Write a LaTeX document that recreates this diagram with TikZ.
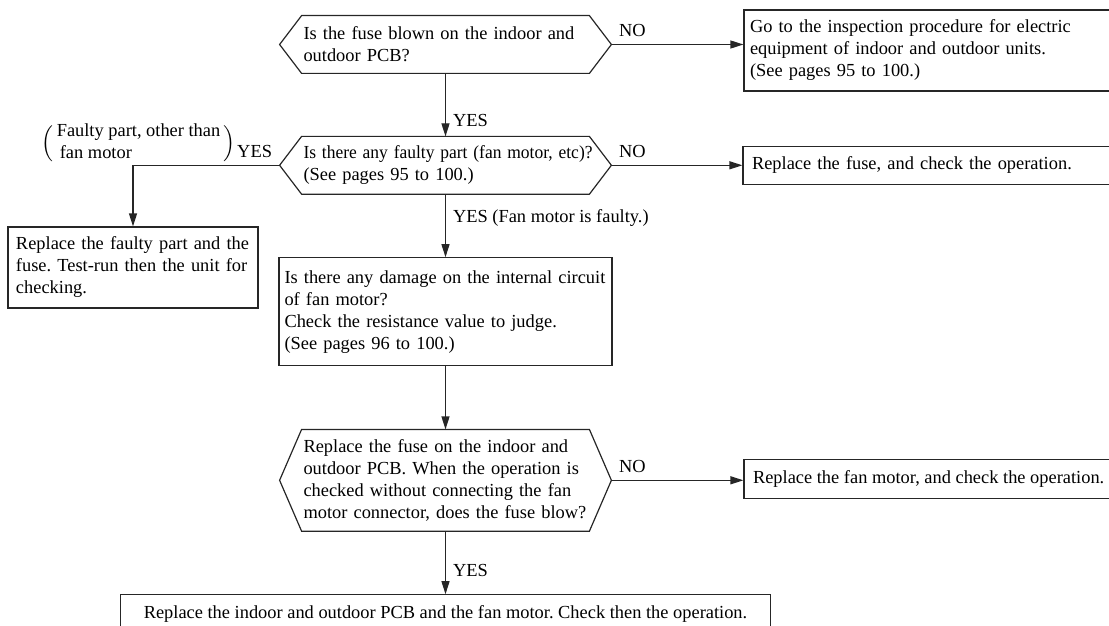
\documentclass[tikz,border=0pt]{standalone}
\usepackage{fontspec}
\usepackage{graphicx}
\setmainfont{Liberation Serif}
\usetikzlibrary{arrows.meta, positioning, calc}
\newcommand{\chartfont}{\fontsize{9.2}{11}\selectfont\frenchspacing\hyphenpenalty=10000\exhyphenpenalty=10000}
\tikzset{
    decision/.style={
        rectangle,
        minimum width=165.5pt,
        minimum height=28.5pt,
        text width=142pt,
        inner xsep=0pt,
        inner ysep=1.5pt,
        align=left,
        font=\chartfont
    },
    action/.style={
        rectangle,
        draw=black!85,
        line width=0.6pt,
        inner xsep=0pt,
        inner ysep=1.5pt,
        align=left,
        font=\chartfont
    },
    flow/.style={
        draw=black!85,
        line width=0.6pt,
        -{Triangle[length=6.5pt,width=4pt]}
    },
    answer/.style={
        font=\chartfont,
        inner sep=3.5pt
    }
}
\newcommand{\decisionframe}[1]{%
    \draw[black!85, line width=0.6pt] (#1.west) -- ([xshift=11pt]#1.north west)
        -- ([xshift=-11pt]#1.north east) -- (#1.east)
        -- ([xshift=-11pt]#1.south east) -- ([xshift=11pt]#1.south west) -- cycle;}

\begin{document}
\begin{tikzpicture}[x=0.5pt, y=-0.5pt, node distance=31.5pt and 66pt]
\useasboundingbox (0,0) rectangle (1109,626);

% Fuse blown?
\node[decision] (blown) at (445.5,44.5) {Is the fuse blown on the indoor and\\outdoor PCB?};
\decisionframe{blown}
\node[action, right=of blown, yshift=-3pt, minimum width=184.5pt, minimum height=40.5pt, text width=178.5pt] (inspect) {Go to the inspection procedure for electric\\equipment of indoor and outdoor units.\\(See pages 95 to 100.)};

% Faulty part?
\node[decision, below=of blown] (faulty) {\scalebox{0.95}[1]{Is there any faulty part (fan motor, etc)?}\\(See pages 95 to 100.)};
\decisionframe{faulty}
\node[action, right=65.5pt of faulty, minimum width=184.5pt, minimum height=19pt, text width=175.5pt] (fuse) {Replace the fuse, and check the operation.};
\node[action, minimum width=125pt, minimum height=40.5pt, text width=117pt] (replacepart) at (133,267.5) {Replace the faulty part and the\\fuse. Test-run then the unit for\\checking.};

% Fan motor circuit
\node[action, below=of faulty, minimum width=166.5pt, minimum height=54pt, text width=161pt] (damage) {Is there any damage on the internal circuit\\of fan motor?\\Check the resistance value to judge.\\(See pages 96 to 100.)};

% Without fan motor connector
\node[decision, below=of damage, minimum height=50.5pt] (blow) {Replace the fuse on the indoor and\\outdoor PCB. When the operation is\\checked without connecting the fan\\motor connector, does the fuse blow?};
\decisionframe{blow}
\node[action, right=of blow, yshift=0.5pt, minimum width=184.5pt, minimum height=19.5pt, inner xsep=4.5pt] (motor) {Replace the fan motor, and check the operation.};
\node[action, below=of blow, minimum width=325pt, minimum height=19pt] (pcb) {Replace the indoor and outdoor PCB and the fan motor. Check then the operation.};

% Connectors
\draw[flow] (blown.east) -- node[answer, anchor=south west, pos=0] {NO} (blown.east -| inspect.west);
\draw[flow] (blown) -- node[answer, anchor=west, pos=0.74] {YES} (faulty);
\draw[flow] (faulty.east) -- node[answer, anchor=south west, pos=0] {NO} (faulty.east -| fuse.west);
\draw[flow] (faulty.west) -| node[answer, anchor=south east, pos=0] (yesleft) {YES} (replacepart.north);
\node[anchor=east, inner sep=0pt, font=\chartfont] (other) at ([xshift=3pt, yshift=4pt]yesleft.west) {$\Big($\hspace{1.5pt}\begin{tabular}{@{}l@{}}Faulty part, other than\\ \,fan motor\end{tabular}\hspace{1.5pt}$\Big)$};
\draw[flow] (faulty) -- node[answer, anchor=west, pos=0.38] {YES (Fan motor is faulty.)} (damage);
\draw[flow] (damage) -- (blow);
\draw[flow] (blow.east) -- node[answer, anchor=south west, pos=0] {NO} (blow.east -| motor.west);
\draw[flow] (blow) -- node[answer, anchor=west, pos=0.63] {YES} (pcb);

\end{tikzpicture}
\end{document}
